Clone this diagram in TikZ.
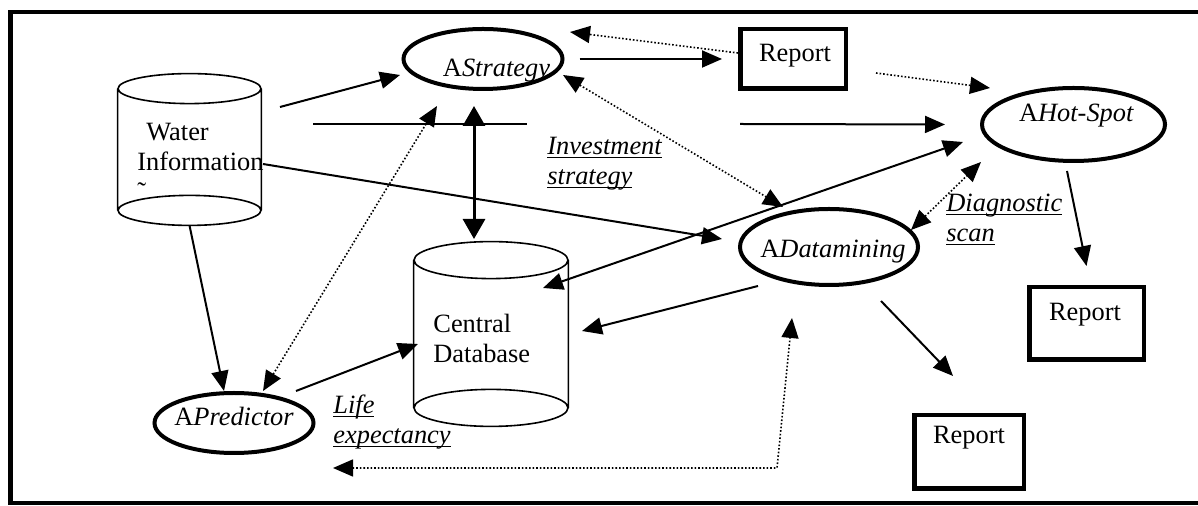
\documentclass[tikz,border=0pt]{standalone}
\usepackage{fontspec}
\setmainfont{Liberation Serif}
\usetikzlibrary{positioning,arrows.meta,calc,shapes.geometric}

% underlined italic label line
\newcommand\ulit[1]{\setbox0\hbox{\itshape #1}\rlap{\copy0}\rule[-1.5pt]{\wd0}{0.5pt}}
% outline of a database can: node, x radius, y radius
\newcommand\drawcan[3]{%
  \draw[canline] ([yshift=-#3]#1.north west) -- ([yshift=#3]#1.south west)
    ([yshift=-#3]#1.north east) -- ([yshift=#3]#1.south east)
    ([yshift=-#3]#1.north) ellipse[x radius=#2, y radius=#3]
    ([yshift=#3]#1.south) ellipse[x radius=#2, y radius=#3];}

\begin{document}
\begin{tikzpicture}[x=0.5pt, y=-0.5pt,
    agent/.style={draw, ellipse, line width=2pt, inner sep=0pt},
    report/.style={draw, rectangle, line width=2.25pt, inner sep=0pt},
    store/.style={rectangle, inner sep=0pt},
    canline/.style={line width=0.8pt},
    txt/.style={inner sep=0pt, font=\fontsize{13.2}{15}\selectfont},
    flow/.style={line width=1pt, ->},
    hint/.style={line width=0.8pt, dash pattern=on 0.8pt off 1pt},
    >={Triangle[length=10pt,width=8.5pt]}
  ]
  \useasboundingbox (0,0) rectangle (1198,506);
  \draw[line width=2.4pt] (1198,12) -- (10.5,12) -- (10.5,503) -- (1198,503);

  % stores
  \node[store, minimum width=71.5pt, minimum height=75.5pt] (water) at (189.5,149.5) {};
  \drawcan{water}{35.75pt}{7.5pt}
  \node[txt, anchor=north west, align=left] (water-t) at (137,122.5) {\hspace*{4.5pt}Water\\Information\\˜};
  \node[store, minimum width=77pt, minimum height=92pt] (cdb) at (491,334) {};
  \drawcan{cdb}{38.5pt}{9.25pt}
  \node[txt, anchor=north west, align=left] (cdb-t) at (433,314) {Central\\Database};

  % agents
  \node[agent, minimum width=79.5pt, minimum height=30pt] (strat) at (483,59) {};
  \node[txt, anchor=base] (strat-t) at (496.5,77) {A\textit{Strategy}};
  \node[agent, minimum width=91.5pt, minimum height=36.5pt] (hot) at (1073.5,124.5) {};
  \node[txt, anchor=base] (hot-t) at (1076.5,122) {A\textit{Hot-Spot}};
  \node[agent, minimum width=89pt, minimum height=38pt] (mine) at (829,247) {};
  \node[txt, anchor=base] (mine-t) at (833,258) {A\textit{Datamining}};
  \node[agent, minimum width=79.5pt, minimum height=30pt] (pred) at (234,423) {};
  \node[txt, anchor=base] (pred-t) at (234,426) {A\textit{Predictor}};

  % reports
  \node[report, minimum width=52.75pt, minimum height=29.75pt] (rep1) at (793,59) {};
  \node[txt, anchor=base] (rep1-t) at (795,62) {Report};
  \node[report, minimum width=57.25pt, minimum height=36.25pt] (rep2) at (1086.5,323.5) {};
  \node[txt, anchor=base] (rep2-t) at (1085,321) {Report};
  \node[report, minimum width=54.75pt, minimum height=36.75pt] (rep3) at (969,452) {};
  \node[txt, anchor=base] (rep3-t) at (969,444) {Report};

  \node[txt, anchor=north west, align=left] (invest) at (547,137) {\ulit{Investment}\\\ulit{strategy}};
  \node[txt, anchor=north west, align=left] (life) at (333,395) {\ulit{Life}\\\ulit{expectancy}};
  \node[txt, anchor=north west, align=left] (diag) at (946,194) {\ulit{Diagnostic}\\\ulit{scan}};

  % solid flows
  \draw[flow] ([shift={(90.5,-42.5)}]water.center) -- ([shift={(-83,16)}]strat.center);
  \draw[line width=1pt] ([shift={(123.5,-25.5)}]water.center) -- ([shift={(44,65)}]strat.center);
  \draw[flow] ([shift={(-53,65)}]rep1.center) -- ([xshift=-17.5pt]hot.west);
  \draw[flow] ([shift={(73.5,14.5)}]water.center) -- ([shift={(-107,-8)}]mine.center);
  \draw[flow] (water.south) -- ([xshift=-5pt]pred.north);
  \draw[flow] ([xshift=7.5pt]strat.east) -- ([xshift=-8pt]rep1.west);
  \draw[flow] ([shift={(-6.5,46.5)}]hot.center) -- ([yshift=9.5pt]rep2.north);
  \draw[flow] ([shift={(52,54)}]mine.center) -- ([shift={(-16,-76)}]rep3.center);
  \draw[flow] ([shift={(-71,39)}]mine.center) -- ([shift={(91,-3)}]cdb.center);
  \draw[flow] ([shift={(62,-32)}]pred.center) -- ([shift={(-73,10)}]cdb.center);
  \draw[line width=1pt, <->] ([shift={(52,-46)}]cdb.center) -- ([shift={(-110.5,17.5)}]hot.center);
  \draw[line width=1.5pt, {Triangle[length=10pt,width=11pt]}-{Triangle[length=10pt,width=11pt]}]
    ([shift={(-9,47)}]strat.center) -- ([shift={(-17,-95)}]cdb.center);

  % dotted links
  \draw[hint, <->] ([shift={(29,-32)}]pred.center) -- ([shift={(-46,47)}]strat.center);
  \draw[hint, ->] ([yshift=3pt]rep1.west) -- ([shift={(87,-27)}]strat.center);
  \draw[hint, <->] ([shift={(80,16)}]strat.center) -- ([shift={(-46,-40)}]mine.center);
  \draw[hint, ->] ([shift={(83,14)}]rep1.center) -- ([shift={(-83.5,-36.5)}]hot.center);
  \draw[hint, <->] ([shift={(82,-17)}]mine.center) -- ([shift={(-92.5,37.5)}]hot.center);
  \draw[hint, <->] ([shift={(99,45)}]pred.center) -- ++(444,0) -- ([shift={(-37,71)}]mine.center);
\end{tikzpicture}
\end{document}
